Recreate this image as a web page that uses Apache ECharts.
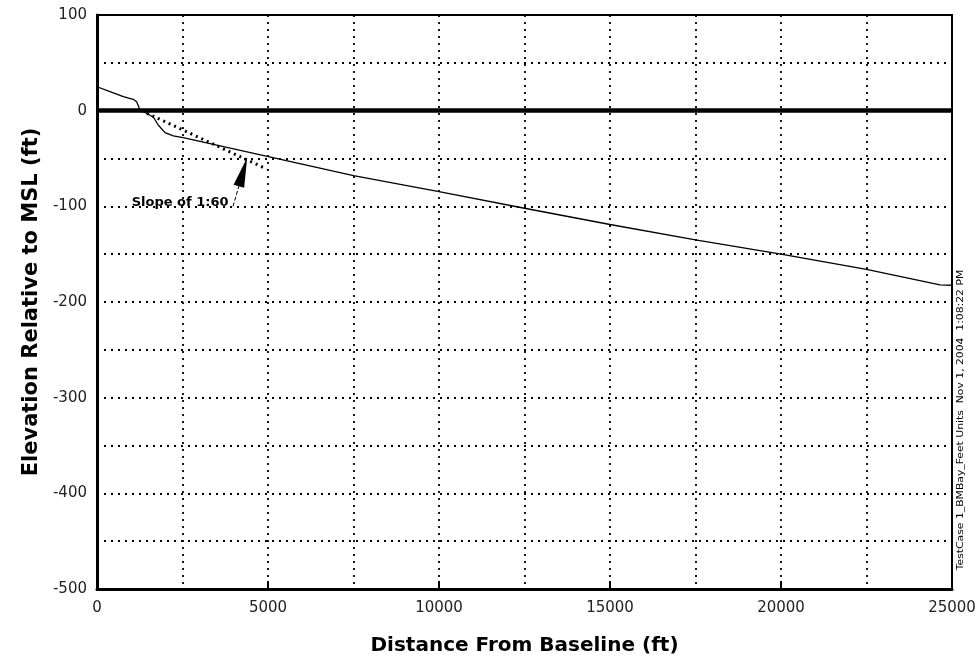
<!DOCTYPE html>
<html><head><meta charset="utf-8">
<script src="https://cdn.jsdelivr.net/npm/echarts@6/dist/echarts.min.js"></script>
<style>html,body{margin:0;padding:0;background:#fff}#c{width:979px;height:662px}</style>
</head><body><div id="c"></div>
<script>
// Profile: distance from baseline (ft) and elevation (ft)
const distance = [0, 380, 770, 1060, 1160, 1257, 1450, 1650, 1790, 1990, 2230, 2520, 5010, 7500, 10000, 12500, 15000, 17500, 20000, 22500, 24650, 25000];
const elevation = [25, 19.9, 14.6, 11.9, 9.4, 0.7, -2.7, -6.9, -15, -23, -26.4, -28.2, -48, -68, -84.6, -102, -119, -135, -150, -166, -182, -182.5];
// 1:60 slope reference line
const slopeX = [1300, 4960];
const slopeY = [0, -61];
// annotation
const annoText = 'Slope of 1:60';
const annoLabelAt = [2430, -96.5];
const arrowFrom = [3977, -100];
const arrowTo = [4270, -64];
const stampText = 'TestCase 1_BMBay_Feet Units  Nov 1, 2004  1:08:22 PM';
const xTitle = 'Distance From Baseline (ft)';
const yTitle = 'Elevation Relative to MSL (ft)';

const chart = echarts.init(document.getElementById('c'));
const dotted = {color: '#000', width: 1.8, type: [2, 5]};
const tickFont = {fontFamily: 'DejaVu Sans', fontSize: 15, color: '#222'};
const titleFont = {fontFamily: 'DejaVu Sans', fontWeight: 'bold', fontSize: 20, color: '#000'};
chart.setOption({
  animation: false,
  backgroundColor: '#fff',
  grid: {left: 97, right: 27, top: 15, bottom: 73, show: true, borderColor: '#000', borderWidth: 2},
  xAxis: {
    type: 'value', min: 0, max: 25000, interval: 5000,
    name: xTitle, nameLocation: 'middle', nameGap: 47,
    nameTextStyle: titleFont,
    axisLine: {show: true, onZero: false, lineStyle: {color: '#000', width: 3}},
    axisTick: {show: true, inside: true, length: 8, lineStyle: {color: '#000', width: 2}},
    axisLabel: Object.assign({margin: 12, formatter: v => String(v)}, tickFont),
    splitLine: {show: true, lineStyle: dotted},
    minorTick: {show: false, splitNumber: 2},
    minorSplitLine: {show: true, lineStyle: dotted}
  },
  yAxis: {
    type: 'value', min: -500, max: 100, interval: 100,
    name: yTitle, nameLocation: 'middle', nameGap: 52, nameRotate: 90,
    nameTextStyle: Object.assign({}, titleFont, {fontSize: 21}),
    axisLine: {show: true, onZero: false, lineStyle: {color: '#000', width: 3}},
    axisTick: {show: false},
    axisLabel: Object.assign({margin: 10, formatter: v => String(v)}, tickFont),
    splitLine: {show: true, lineStyle: dotted},
    minorTick: {show: false, splitNumber: 2},
    minorSplitLine: {show: true, lineStyle: dotted}
  },
  series: [
    {
      type: 'line', data: distance.map((d, i) => [d, elevation[i]]),
      symbol: 'none', smooth: false, lineStyle: {color: '#000', width: 1.3},
      markLine: {
        silent: true, symbol: 'none', label: {show: false},
        lineStyle: {color: '#000', width: 4.5, type: 'solid'},
        data: [{yAxis: 0}]
      }
    },
    {
      type: 'line', data: slopeX.map((d, i) => [d, slopeY[i]]),
      symbol: 'none', lineStyle: {color: '#000', width: 3, type: [2, 4]},
      markLine: {
        silent: true, symbol: ['none', 'triangle'], symbolSize: [11, 30],
        label: {show: false},
        lineStyle: {color: '#000', width: 1, type: [4, 2]},
        data: [[{coord: arrowFrom}, {coord: arrowTo}]]
      },
      markPoint: {
        silent: true, symbol: 'circle', symbolSize: 0,
        label: {show: true, position: 'inside', formatter: annoText,
          fontFamily: 'DejaVu Sans', fontWeight: 'bold', fontSize: 13, color: '#000'},
        data: [{coord: annoLabelAt}]
      }
    }
  ],
  graphic: [{
    type: 'text', x: 961, y: 420, rotation: Math.PI / 2, scaleX: 1.2,
    style: {text: stampText, fontFamily: 'DejaVu Sans', fontSize: 9, fill: '#000', align: 'center', verticalAlign: 'middle'}
  }]
});
</script></body></html>
